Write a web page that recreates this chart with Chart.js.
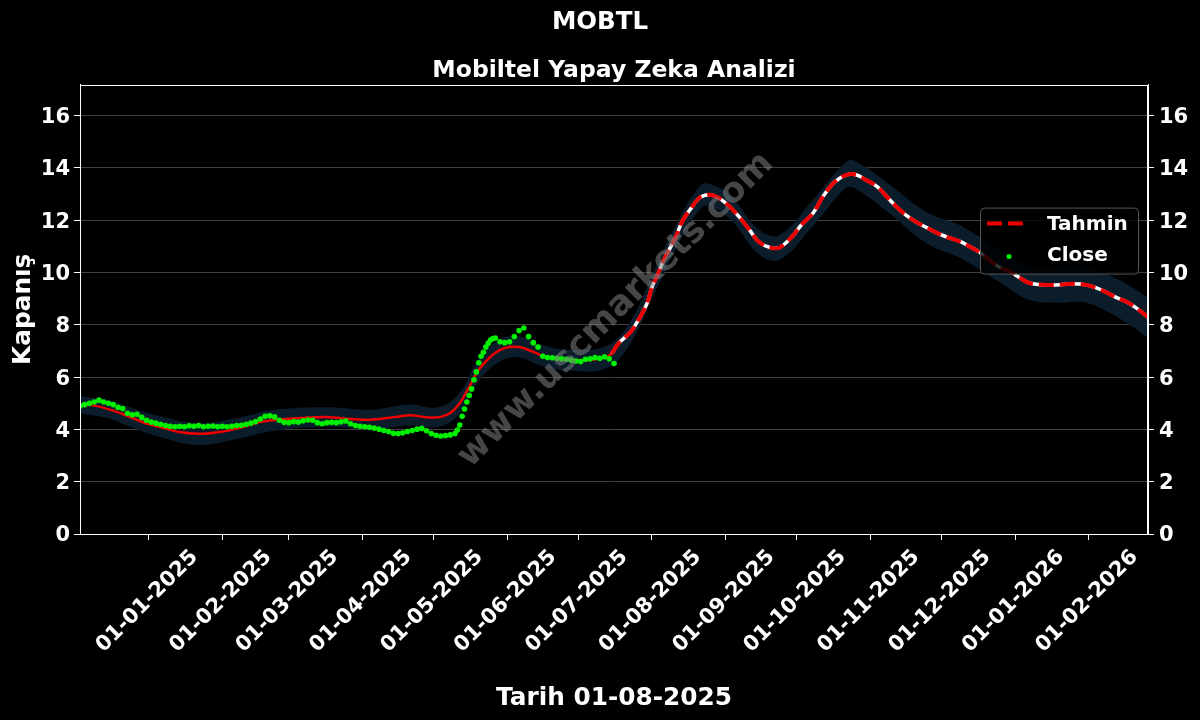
<!DOCTYPE html>
<html>
<head>
<meta charset="utf-8">
<title>MOBTL</title>
<script src="https://cdn.jsdelivr.net/npm/chart.js@4.4.1/dist/chart.umd.min.js"></script>
<style>
  html, body { margin: 0; padding: 0; background: #000; }
  canvas { display: block; }
</style>
</head>
<body>
<canvas id="myChart" width="1200" height="720"></canvas>
<script>
// x values are days counted from 01-01-2025
const tickDays = [0, 31, 59, 90, 120, 151, 181, 212, 243, 273, 304, 334, 365, 396];
const tickLabels = ['01-01-2025', '01-02-2025', '01-03-2025', '01-04-2025', '01-05-2025', '01-06-2025', '01-07-2025',
                    '01-08-2025', '01-09-2025', '01-10-2025', '01-11-2025', '01-12-2025', '01-01-2026', '01-02-2026'];
const yTickVals = [0, 2, 4, 6, 8, 10, 12, 14, 16];

const closeDays = [-29, -27, -25, -23, -21, -19, -17, -15, -13, -11, -9, -7, -5, -3, -1,
  1, 3, 5, 7, 9, 11, 13, 15, 17, 19, 21, 23, 25, 27, 29, 31, 33, 35, 37, 39, 41, 43, 45, 47, 49,
  51, 53, 55, 57, 59, 61, 63, 65, 67, 69, 71, 73, 75, 77, 79, 81, 83, 85, 87, 89, 91, 93, 95, 97, 99,
  101, 103, 105, 107, 109, 111, 113, 115, 117, 119, 121, 123, 125, 127, 129,
  130, 131, 132, 133, 134, 135, 136, 137, 138, 139, 140, 141, 142, 143, 144, 145, 146,
  148, 150, 152, 154, 156, 158, 160, 162, 164, 166, 168, 170, 172, 174, 176, 178, 180,
  182, 184, 186, 188, 190, 192, 194, 196];
const closeVals = [4.90, 4.95, 5.00, 5.05, 5.12, 5.05, 5.00, 4.95, 4.85, 4.80, 4.62, 4.56, 4.58, 4.46, 4.35,
  4.28, 4.24, 4.20, 4.15, 4.12, 4.10, 4.12, 4.10, 4.14, 4.12, 4.15, 4.10, 4.12, 4.13, 4.10, 4.12, 4.10, 4.12, 4.15, 4.16, 4.20, 4.24, 4.30, 4.40, 4.50,
  4.52, 4.48, 4.35, 4.27, 4.26, 4.30, 4.28, 4.33, 4.36, 4.35, 4.26, 4.22, 4.26, 4.27, 4.26, 4.29, 4.32, 4.22, 4.15, 4.12, 4.10, 4.08, 4.05, 4.01, 3.96,
  3.92, 3.85, 3.84, 3.87, 3.92, 3.96, 4.01, 4.04, 3.95, 3.84, 3.78, 3.75, 3.77, 3.79, 3.84,
  3.98, 4.17, 4.50, 4.78, 5.05, 5.30, 5.55, 5.90, 6.20, 6.55, 6.80, 6.95, 7.15, 7.30, 7.42, 7.48, 7.50,
  7.35, 7.32, 7.35, 7.55, 7.78, 7.88, 7.55, 7.32, 7.15, 6.80, 6.75, 6.74, 6.72, 6.70, 6.68, 6.65, 6.62,
  6.60, 6.68, 6.70, 6.75, 6.72, 6.78, 6.70, 6.52];

const fitDays = [-29, -24, -16, -8, -2, 5, 13, 21, 30, 38, 47, 53, 64, 76, 85, 93, 104, 110, 118, 123,
  127, 131, 135, 139, 144, 148, 152, 156, 160, 165, 169, 177, 186, 193, 195];
const fitVals = [4.95, 4.93, 4.75, 4.48, 4.25, 4.08, 3.90, 3.83, 3.90, 4.05, 4.28, 4.36, 4.44, 4.47, 4.40, 4.37, 4.48, 4.54, 4.46, 4.48,
  4.63, 5.00, 5.63, 6.28, 6.78, 7.04, 7.15, 7.15, 7.04, 6.85, 6.74, 6.66, 6.66, 6.78, 6.90];

const tahminDays = [195, 198, 203, 207, 210, 212, 214, 217, 220, 222, 225, 228, 232, 236, 240, 245, 249, 253, 257, 262,
  266, 271, 275, 280, 284, 289, 294, 298, 302, 307, 311, 315, 319, 324, 328, 332, 336, 342, 346, 350,
  354, 358, 363, 367, 371, 377, 384, 389, 395, 399, 404, 408, 412, 416, 421];
const tahminVals = [6.90, 7.30, 7.73, 8.30, 8.84, 9.45, 9.84, 10.49, 11.00, 11.37, 12.00, 12.40, 12.86, 12.98, 12.86, 12.50, 12.10, 11.64, 11.18, 10.95,
  10.97, 11.37, 11.83, 12.29, 12.90, 13.47, 13.74, 13.74, 13.55, 13.28, 12.90, 12.52, 12.20, 11.90, 11.71, 11.52, 11.37, 11.18, 10.99, 10.78,
  10.49, 10.22, 10.03, 9.80, 9.60, 9.53, 9.53, 9.57, 9.53, 9.42, 9.22, 9.03, 8.88, 8.65, 8.30];

const bandDays = [-29, -16, -8, 5, 21, 38, 53, 76, 93, 110, 122, 131, 139, 148, 156, 165, 177, 193,
  203, 212, 222, 232, 236, 245, 257, 266, 280, 294, 298, 311, 328, 342, 359, 371, 384, 395, 408, 421];
const bandHigh = [5.28, 5.10, 4.85, 4.50, 4.25, 4.45, 4.75, 4.85, 4.75, 4.95, 4.85, 5.40, 6.70, 7.45, 7.55, 7.25, 7.05, 7.20,
  8.15, 9.90, 11.80, 13.30, 13.40, 12.95, 11.65, 11.45, 12.80, 14.25, 14.25, 13.45, 12.30, 11.80, 10.85, 10.25, 10.20, 10.20, 9.75, 9.05];
const bandLow = [4.62, 4.40, 4.10, 3.70, 3.40, 3.65, 3.95, 4.10, 4.00, 4.15, 4.10, 4.60, 5.85, 6.60, 6.75, 6.45, 6.25, 6.35,
  7.30, 9.00, 10.90, 12.40, 12.55, 12.05, 10.70, 10.50, 11.80, 13.25, 13.20, 12.35, 11.10, 10.55, 9.60, 8.95, 8.85, 8.85, 8.30, 7.50];

function pts(xs, ys) {
  return xs.map((x, i) => ({x: x, y: ys[i]}));
}

Chart.defaults.font.family = '"DejaVu Sans", sans-serif';
Chart.defaults.font.weight = 'bold';
Chart.defaults.color = '#fff';

const tickFont = {size: 21, weight: 'bold'};
const axisTitleFont = {size: 24.8, weight: 'bold'};

// watermark, top spine and legend box
const decor = {
  id: 'decor',
  afterDatasetsDraw(chart) {
    const ctx = chart.ctx;
    const a = chart.chartArea;
    ctx.save();
    ctx.translate((a.left + a.right) / 2 + 2, (a.top + a.bottom) / 2 + 1);
    ctx.rotate(-45 * Math.PI / 180);
    ctx.font = 'bold 35px "DejaVu Sans"';
    ctx.fillStyle = 'rgba(128,128,128,0.55)';
    ctx.textAlign = 'center';
    ctx.textBaseline = 'middle';
    ctx.fillText('www.uscmarkets.com', 0, 0);
    ctx.restore();

    ctx.save();
    ctx.strokeStyle = '#fff';
    ctx.lineWidth = 1;
    ctx.strokeRect(Math.round(a.left) + 0.5, Math.round(a.top) + 0.5, Math.round(a.right - a.left) - 1, Math.round(a.bottom - a.top));
    ctx.restore();

    // legend
    const ds = chart.data.datasets;
    const bx = a.right - 168, by = a.top + 123, bw = 158, bh = 66;
    ctx.save();
    ctx.beginPath();
    ctx.roundRect(bx + 0.5, by + 0.5, bw, bh, 4);
    ctx.fillStyle = 'rgba(0,0,0,0.8)';
    ctx.fill();
    ctx.strokeStyle = '#555';
    ctx.lineWidth = 1;
    ctx.stroke();

    ctx.beginPath();
    ctx.setLineDash([15, 6]);
    ctx.strokeStyle = ds[4].borderColor;
    ctx.lineWidth = 4;
    ctx.moveTo(bx + 7, by + 16);
    ctx.lineTo(bx + 47, by + 16);
    ctx.stroke();
    ctx.setLineDash([]);

    ctx.beginPath();
    ctx.fillStyle = ds[5].backgroundColor;
    ctx.arc(bx + 29, by + 49, 2.5, 0, Math.PI * 2);
    ctx.fill();

    ctx.fillStyle = '#fff';
    ctx.font = 'bold 20px "DejaVu Sans"';
    ctx.textAlign = 'left';
    ctx.textBaseline = 'middle';
    ctx.fillText(ds[4].label, bx + 67, by + 17);
    ctx.fillText(ds[5].label, bx + 67, by + 48);
    ctx.restore();
  }
};

const data = {
  datasets: [
    { label: 'band_low', data: pts(bandDays, bandLow), borderWidth: 0, pointRadius: 0, fill: false, tension: 0.4, order: 10 },
    { label: 'band_high', data: pts(bandDays, bandHigh), borderWidth: 0, pointRadius: 0, fill: '-1',
      backgroundColor: '#0b1c2b', tension: 0.4, order: 9 },
    { label: 'fit', data: pts(fitDays, fitVals), borderColor: '#ee0000', borderWidth: 2.5, pointRadius: 0, tension: 0.35, order: 5 },
    { label: 'base', data: pts(tahminDays, tahminVals), borderColor: '#ffffff', borderWidth: 3.5, pointRadius: 0, tension: 0.35, order: 4 },
    { label: 'Tahmin', data: pts(tahminDays, tahminVals), borderColor: '#ee0000', borderWidth: 4, borderDash: [15, 6],
      pointRadius: 0, tension: 0.35, order: 3 },
    { label: 'Close', data: pts(closeDays, closeVals), showLine: false, pointRadius: 2.8, pointBorderWidth: 0,
      backgroundColor: '#00f000', borderColor: '#00f000', order: 1 }
  ]
};

const config = {
  type: 'line',
  data,
  options: {
    responsive: false,
    animation: false,
    events: [],
    devicePixelRatio: 1,
    layout: { padding: 0 },
    plugins: {
      legend: { display: false },
      tooltip: { enabled: false },
      title: { display: true, text: 'MOBTL', color: '#fff', font: {size: 24.5, weight: 'bold'}, padding: {top: 7.6, bottom: 10} },
      subtitle: { display: true, fullSize: false, text: 'Mobiltel Yapay Zeka Analizi', color: '#fff',
                  font: {size: 23.5, weight: 'bold'}, padding: {top: 9.4, bottom: 0} }
    },
    scales: {
      x: {
        type: 'linear',
        min: -29,
        max: 421,
        afterBuildTicks: (s) => { s.ticks = tickDays.map(v => ({value: v})); },
        afterFit: (s) => { s.height = 186; },
        ticks: {
          autoSkip: false, minRotation: 45, maxRotation: 45, labelOffset: 46, padding: 5,
          color: '#fff', font: tickFont,
          callback: (v, i) => tickLabels[i]
        },
        grid: { drawOnChartArea: false, tickLength: 6, tickColor: '#fff' },
        border: { color: '#fff', width: 1 },
        title: { display: true, text: 'Tarih 01-08-2025', color: '#fff', font: axisTitleFont, padding: {top: 0, bottom: 6.1} }
      },
      y: {
        type: 'linear',
        position: 'left',
        min: 0,
        max: 17.19,
        afterBuildTicks: (s) => { s.ticks = yTickVals.map(v => ({value: v})); },
        afterFit: (s) => { s.width = 80; },
        ticks: { color: '#fff', font: tickFont, padding: 4, labelOffset: 2 },
        grid: { color: 'rgba(255,255,255,0.25)', tickColor: '#fff', tickLength: 6 },
        border: { color: '#fff', width: 1 },
        title: { display: true, text: 'Kapanış', color: '#fff', font: axisTitleFont, padding: {top: 9, bottom: 0} }
      },
      y2: {
        type: 'linear',
        position: 'right',
        min: 0,
        max: 17.19,
        afterBuildTicks: (s) => { s.ticks = yTickVals.map(v => ({value: v})); },
        afterFit: (s) => { s.width = 52; },
        ticks: { color: '#fff', font: tickFont, padding: 5, labelOffset: 2 },
        grid: { drawOnChartArea: false, tickColor: '#fff', tickLength: 6 },
        border: { color: '#fff', width: 1 }
      }
    }
  },
  plugins: [decor]
};

var ctx = document.getElementById('myChart').getContext('2d');
var myChart = new Chart(ctx, config);
</script>
</body>
</html>
